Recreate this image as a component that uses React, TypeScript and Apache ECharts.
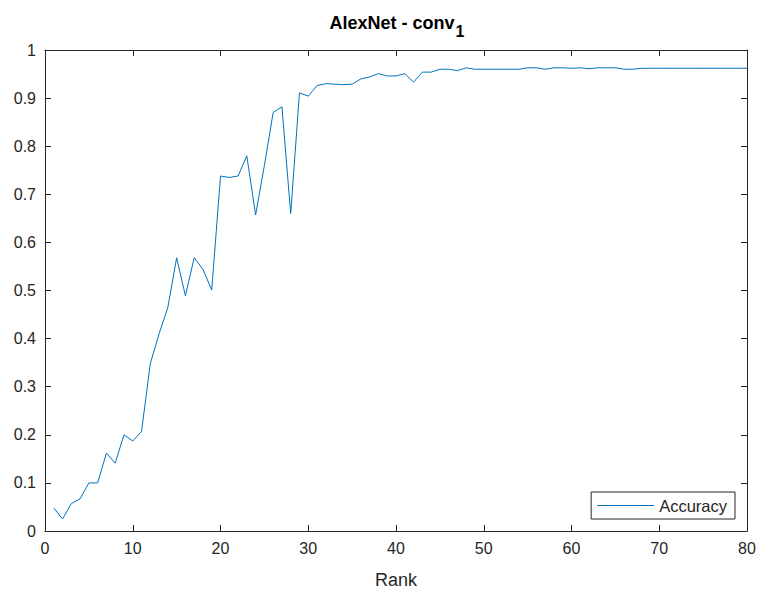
import React, { useEffect, useRef } from "react";
import * as echarts from "echarts";

const ranks: number[] = Array.from({ length: 80 }, (_, i) => i + 1);
const accuracy: number[] = [
  0.048, 0.025, 0.057, 0.067, 0.1, 0.1, 0.162, 0.141, 0.2, 0.187,
  0.207, 0.348, 0.41, 0.465, 0.568, 0.489, 0.568, 0.544, 0.501, 0.738,
  0.735, 0.738, 0.78, 0.657, 0.76, 0.87, 0.882, 0.66, 0.911, 0.904,
  0.926, 0.93, 0.929, 0.928, 0.929, 0.94, 0.944, 0.951, 0.946, 0.946,
  0.951, 0.933, 0.954, 0.954, 0.96, 0.96, 0.957, 0.963, 0.96, 0.96,
  0.96, 0.96, 0.96, 0.96, 0.963, 0.963, 0.96, 0.963, 0.963, 0.962,
  0.963, 0.961, 0.963, 0.963, 0.963, 0.96, 0.96, 0.962, 0.962, 0.962,
  0.962, 0.962, 0.962, 0.962, 0.962, 0.962, 0.962, 0.962, 0.962, 0.962,
];
const xTicks = { min: 0, max: 80, interval: 10 };
const yTicks = { min: 0, max: 1, interval: 0.1 };

const AX = "#262626";
const FONT = "Liberation Sans, Arial, Helvetica, sans-serif";

export default function App() {
  const ref = useRef<HTMLDivElement>(null);
  useEffect(() => {
    if (!ref.current) return;
    const chart = echarts.init(ref.current, undefined, { renderer: "svg" });
    const axisLine = { show: true, onZero: false, lineStyle: { color: AX, width: 1 } };
    const axisTick = { show: true, inside: true, length: 6, lineStyle: { color: AX, width: 1 } };
    chart.setOption({
      animation: false,
      backgroundColor: "#ffffff",
      title: {
        text: "{a|AlexNet - conv}{s|1}",
        left: 392,
        top: 9,
        textAlign: "center",
        textStyle: {
          rich: {
            a: { fontFamily: FONT, fontSize: 18, fontWeight: "bold", color: "#000", lineHeight: 22, verticalAlign: "top" },
            s: { fontFamily: FONT, fontSize: 16, fontWeight: "bold", color: "#000", lineHeight: 22, padding: [9, 0, 0, 1], verticalAlign: "top" },
          },
        },
      },
      grid: { left: 45, right: 13, top: 50, bottom: 58, containLabel: false },
      legend: {
        show: true,
        right: 25,
        top: 492,
        orient: "vertical",
        backgroundColor: "#ffffff",
        borderColor: AX,
        borderWidth: 1,
        borderRadius: 0,
        padding: [5, 8, 5, 6],
        itemWidth: 57,
        itemHeight: 18,
        itemGap: 0,
        icon: "path://M0,9L57,9L57,10L0,10Z",
        textStyle: { fontFamily: FONT, fontSize: 16.5, color: AX },
        data: [{ name: "Accuracy", itemStyle: { color: "#0072BD" } }],
      },
      xAxis: [
        {
          type: "value",
          ...xTicks,
          position: "bottom",
          name: "Rank",
          nameLocation: "middle",
          nameGap: 40,
          nameTextStyle: { fontFamily: FONT, fontSize: 18, color: AX },
          axisLine,
          axisTick,
          splitLine: { show: false },
          axisLabel: { fontFamily: FONT, fontSize: 16, color: AX, margin: 9 },
        },
        {
          type: "value",
          ...xTicks,
          position: "top",
          axisLine,
          axisTick,
          splitLine: { show: false },
          axisLabel: { show: false },
        },
      ],
      yAxis: [
        {
          type: "value",
          ...yTicks,
          position: "left",
          axisLine,
          axisTick,
          splitLine: { show: false },
          axisLabel: { fontFamily: FONT, fontSize: 16, color: AX, margin: 9, formatter: (v: number) => String(Math.round(v * 10) / 10) },
        },
        {
          type: "value",
          ...yTicks,
          position: "right",
          axisLine,
          axisTick,
          splitLine: { show: false },
          axisLabel: { show: false },
        },
      ],
      series: [
        {
          name: "Accuracy",
          type: "line",
          xAxisIndex: 0,
          yAxisIndex: 0,
          data: ranks.map((r, i) => [r, accuracy[i]]),
          showSymbol: false,
          symbol: "none",
          lineStyle: { color: "#0072BD", width: 1 },
          itemStyle: { color: "#0072BD" },
        },
      ],
    });
    return () => chart.dispose();
  }, []);
  return <div ref={ref} style={{ width: 760, height: 594, position: "absolute", left: 0, top: 0 }} />;
}
